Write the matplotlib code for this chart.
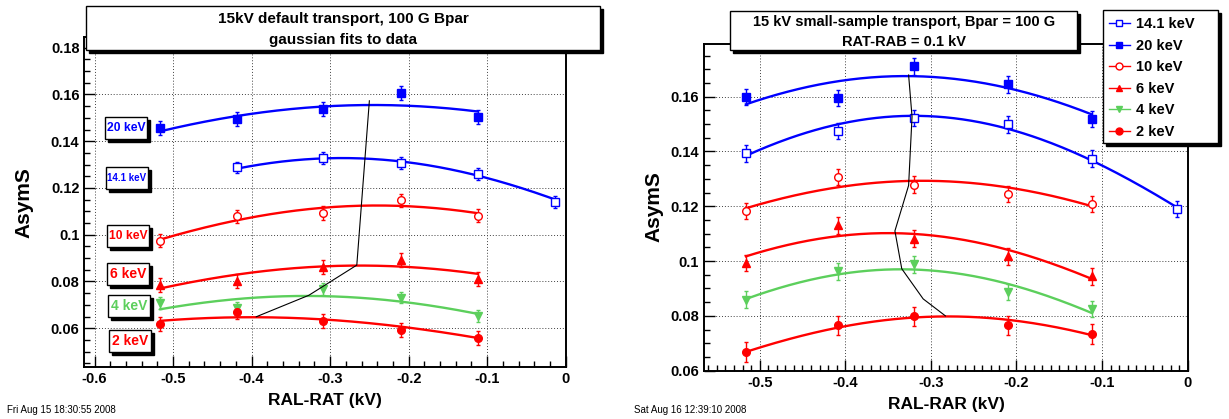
import numpy as np
import matplotlib
matplotlib.use('Agg')
import matplotlib.pyplot as plt
from matplotlib.patches import Rectangle
from matplotlib.lines import Line2D
from matplotlib.ticker import MultipleLocator, FuncFormatter

plt.rcParams['font.family'] = ['Liberation Sans', 'DejaVu Sans']
plt.rcParams['font.weight'] = 'bold'
plt.rcParams['axes.unicode_minus'] = False

# ---------------- data: left panel (RAL-RAT) ----------------
left_labels = ['20 keV', '14.1 keV', '10 keV', '6 keV', '4 keV', '2 keV']
left_x = {
    '20 keV':   [-0.516, -0.418, -0.309, -0.210, -0.112],
    '14.1 keV': [-0.418, -0.309, -0.210, -0.112, -0.013],
    '10 keV':   [-0.516, -0.418, -0.309, -0.210, -0.112],
    '6 keV':    [-0.516, -0.418, -0.309, -0.210, -0.112],
    '4 keV':    [-0.516, -0.418, -0.309, -0.210, -0.112],
    '2 keV':    [-0.516, -0.418, -0.309, -0.210, -0.112],
}
left_y = {
    '20 keV':   [0.1457, 0.1495, 0.1538, 0.1606, 0.1502],
    '14.1 keV': [0.1288, 0.1328, 0.1307, 0.1261, 0.1140],
    '10 keV':   [0.0974, 0.1078, 0.1093, 0.1148, 0.1081],
    '6 keV':    [0.0786, 0.0800, 0.0862, 0.0893, 0.0812],
    '4 keV':    [0.0707, 0.0688, 0.0767, 0.0731, 0.0653],
    '2 keV':    [0.0620, 0.0670, 0.0631, 0.0593, 0.0560],
}
left_err = {
    '20 keV':   [0.003, 0.003, 0.003, 0.003, 0.003],
    '14.1 keV': [0.0025, 0.0025, 0.0025, 0.0025, 0.0025],
    '10 keV':   [0.0028, 0.0028, 0.0028, 0.0028, 0.0028],
    '6 keV':    [0.003, 0.003, 0.003, 0.003, 0.003],
    '4 keV':    [0.0025, 0.0025, 0.0025, 0.0025, 0.0025],
    '2 keV':    [0.003, 0.003, 0.003, 0.003, 0.003],
}
# gaussian fit parameters (amplitude, mean, sigma)
left_fit = {
    '20 keV':   (0.1555, -0.245, 0.70),
    '14.1 keV': (0.1328, -0.285, 0.507),
    '10 keV':   (0.1125, -0.240, 0.525),
    '6 keV':    (0.0868, -0.262, 0.52),
    '4 keV':    (0.0738, -0.330, 0.465),
    '2 keV':    (0.0647, -0.400, 0.53),
}
left_peak_x = [-0.394, -0.327, -0.266, -0.250]
left_peak_y = [0.0649, 0.0741, 0.0870, 0.1573]

# ---------------- data: right panel (RAL-RAR) ----------------
right_labels = ['14.1 keV', '20 keV', '10 keV', '6 keV', '4 keV', '2 keV']
right_x = {
    '14.1 keV': [-0.516, -0.408, -0.320, -0.210, -0.112, -0.012],
    '20 keV':   [-0.516, -0.408, -0.320, -0.210, -0.112],
    '10 keV':   [-0.516, -0.408, -0.320, -0.210, -0.112],
    '6 keV':    [-0.516, -0.408, -0.320, -0.210, -0.112],
    '4 keV':    [-0.516, -0.408, -0.320, -0.210, -0.112],
    '2 keV':    [-0.516, -0.408, -0.320, -0.210, -0.112],
}
right_y = {
    '14.1 keV': [0.1393, 0.1474, 0.1523, 0.1499, 0.1374, 0.1191],
    '20 keV':   [0.1598, 0.1595, 0.1710, 0.1645, 0.1519],
    '10 keV':   [0.1183, 0.1306, 0.1279, 0.1244, 0.1209],
    '6 keV':    [0.0994, 0.1130, 0.1082, 0.1017, 0.0944],
    '4 keV':    [0.0859, 0.0962, 0.0988, 0.0887, 0.0826],
    '2 keV':    [0.0668, 0.0765, 0.0799, 0.0765, 0.0734],
}
right_err = {
    '14.1 keV': [0.003, 0.003, 0.003, 0.003, 0.003, 0.003],
    '20 keV':   [0.003, 0.003, 0.003, 0.003, 0.003],
    '10 keV':   [0.003, 0.003, 0.003, 0.003, 0.003],
    '6 keV':    [0.003, 0.003, 0.003, 0.003, 0.003],
    '4 keV':    [0.003, 0.003, 0.003, 0.003, 0.003],
    '2 keV':    [0.0035, 0.0035, 0.0035, 0.0035, 0.0035],
}
right_fit = {
    '14.1 keV': (0.1530, -0.320, 0.438),
    '20 keV':   (0.1675, -0.330, 0.522),
    '10 keV':   (0.1293, -0.310, 0.513),
    '6 keV':    (0.1102, -0.350, 0.415),
    '4 keV':    (0.0970, -0.335, 0.372),
    '2 keV':    (0.0798, -0.280, 0.397),
}
right_peak_x = [-0.326, -0.322, -0.326, -0.342, -0.334, -0.309, -0.283]
right_peak_y = [0.1679, 0.1527, 0.1276, 0.1110, 0.0972, 0.0862, 0.0800]

BLUE = '#0000ff'
RED = '#ff0000'
GREEN = '#5ccf5c'
styles = {
    '14.1 keV': (BLUE, 's', False),
    '20 keV':   (BLUE, 's', True),
    '10 keV':   (RED, 'o', False),
    '6 keV':    (RED, '^', True),
    '4 keV':    (GREEN, 'v', True),
    '2 keV':    (RED, 'o', True),
}

W, H = 1229, 419


def fx(p):
    return p / W


def fy(p):
    return 1 - p / H


def gauss(x, a, mu, s):
    return a * np.exp(-0.5 * ((x - mu) / s) ** 2)


def shadow_rect(fig, x0, y0, x1, y1, off=3):
    w, h = (x1 - x0) / W, (y1 - y0) / H
    fig.add_artist(Rectangle((fx(x0 + off), fy(y1 + off)), w, h, transform=fig.transFigure,
                             facecolor='black', edgecolor='black', lw=1, zorder=5))
    fig.add_artist(Rectangle((fx(x0), fy(y1)), w, h, transform=fig.transFigure,
                             facecolor='white', edgecolor='black', lw=1, zorder=6))


def fmt(v, pos):
    if abs(v) < 1e-9:
        return '0'
    return f'{round(v, 3):g}'


def draw_panel(ax, labels, xs, ys, errs, fits, px, py):
    for lab in labels:
        c, m, filled = styles[lab]
        x = np.array(xs[lab])
        ax.errorbar(x, ys[lab], yerr=errs[lab], fmt=m, color=c, mec=c,
                    mfc=c if filled else 'white', ms=5.5, mew=1, capsize=1.5,
                    elinewidth=1, zorder=4)
        xx = np.linspace(x.min(), x.max(), 200)
        ax.plot(xx, gauss(xx, *fits[lab]), color=c, lw=1.7, zorder=3)
    ax.plot(px, py, color='black', lw=0.8, zorder=5)
    ax.grid(True, which='major', ls=(0, (1, 2)), color='0.25', lw=0.7)
    ax.tick_params(which='both', direction='in', top=False, right=False,
                   labelsize=10.5, width=1)
    ax.tick_params(which='major', length=8)
    ax.tick_params(which='minor', length=4.5)
    ax.xaxis.set_major_formatter(FuncFormatter(fmt))
    ax.yaxis.set_major_formatter(FuncFormatter(fmt))
    for sp in ax.spines.values():
        sp.set_linewidth(1.4)
    for t in ax.get_xticklabels() + ax.get_yticklabels():
        t.set_fontweight('bold')


fig = plt.figure(figsize=(W / 100, H / 100), dpi=100)

# left panel
axL = fig.add_axes([fx(84.3), fy(367), (565.7 - 84.3) / W, (367 - 37) / H])
draw_panel(axL, left_labels, left_x, left_y, left_err, left_fit, left_peak_x, left_peak_y)
axL.set_xlim(-0.613, 0)
axL.set_ylim(0.0434, 0.1846)
axL.xaxis.set_major_locator(MultipleLocator(0.1))
axL.xaxis.set_minor_locator(MultipleLocator(0.02))
axL.yaxis.set_major_locator(MultipleLocator(0.02))
axL.yaxis.set_minor_locator(MultipleLocator(0.005))

# right panel
axR = fig.add_axes([fx(704), fy(370.7), (1187.7 - 704) / W, (370.7 - 44.3) / H])
draw_panel(axR, right_labels, right_x, right_y, right_err, right_fit, right_peak_x, right_peak_y)
axR.set_xlim(-0.565, 0)
axR.set_ylim(0.06, 0.1791)
axR.xaxis.set_major_locator(MultipleLocator(0.1))
axR.xaxis.set_minor_locator(MultipleLocator(0.01))
axR.yaxis.set_major_locator(MultipleLocator(0.02))
axR.yaxis.set_minor_locator(MultipleLocator(0.005))

# axis titles
fig.text(fx(325), fy(400), 'RAL-RAT (kV)', ha='center', va='center', fontsize=12.5, fontweight='bold')
fig.text(fx(946), fy(404), 'RAL-RAR (kV)', ha='center', va='center', fontsize=12.5, fontweight='bold')
fig.text(fx(24), fy(203), 'AsymS', ha='center', va='center', rotation=90, fontsize=15, fontweight='bold')
fig.text(fx(654), fy(207), 'AsymS', ha='center', va='center', rotation=90, fontsize=15, fontweight='bold')

# date stamps
fig.text(fx(7), fy(410), 'Fri Aug 15 18:30:55 2008', ha='left', va='center', fontsize=7, fontweight='normal')
fig.text(fx(634), fy(410), 'Sat Aug 16 12:39:10 2008', ha='left', va='center', fontsize=7, fontweight='normal')

# title boxes
shadow_rect(fig, 86, 6, 600, 50)
fig.text(fx(343), fy(19), '15kV default transport, 100 G Bpar', ha='center', va='center',
         fontsize=11, fontweight='bold', zorder=7)
fig.text(fx(343), fy(40), 'gaussian fits to data', ha='center', va='center',
         fontsize=11, fontweight='bold', zorder=7)

shadow_rect(fig, 730, 11, 1077, 50)
fig.text(fx(904), fy(22), '15 kV small-sample transport, Bpar = 100 G', ha='center', va='center',
         fontsize=10.5, fontweight='bold', zorder=7)
fig.text(fx(904), fy(42), 'RAT-RAB = 0.1 kV', ha='center', va='center',
         fontsize=10.5, fontweight='bold', zorder=7)

# energy label boxes in the left panel
box_tops = {'20 keV': 117, '14.1 keV': 167, '10 keV': 225, '6 keV': 263, '4 keV': 295, '2 keV': 330}
box_left = {'20 keV': 105, '14.1 keV': 106, '10 keV': 107, '6 keV': 107, '4 keV': 108, '2 keV': 109}
box_font = {'20 keV': 8.7, '14.1 keV': 7, '10 keV': 8.7, '6 keV': 10, '4 keV': 10, '2 keV': 10}
for lab in left_labels:
    x0, y0 = box_left[lab], box_tops[lab]
    shadow_rect(fig, x0, y0, x0 + 42, y0 + 22)
    fig.text(fx(x0 + 21), fy(y0 + 11), lab, ha='center', va='center', color=styles[lab][0],
             fontsize=box_font[lab], fontweight='bold', zorder=7)

# legend on the right
shadow_rect(fig, 1103, 10, 1218, 143)
handles = []
for lab in right_labels:
    c, m, filled = styles[lab]
    handles.append(Line2D([], [], color=c, marker=m, mec=c, mfc=c if filled else 'white',
                          ms=5, lw=1))
leg = fig.legend(handles, right_labels, loc='upper left', bbox_to_anchor=(fx(1104), fy(12)),
                 bbox_transform=fig.transFigure, frameon=False, fontsize=10.5,
                 handlelength=1.4, handletextpad=0.45, labelspacing=0.52,
                 borderpad=0.35, borderaxespad=0)
leg.set_zorder(8)
for t in leg.get_texts():
    t.set_fontweight('bold')

fig.savefig('out.png', dpi=100)
